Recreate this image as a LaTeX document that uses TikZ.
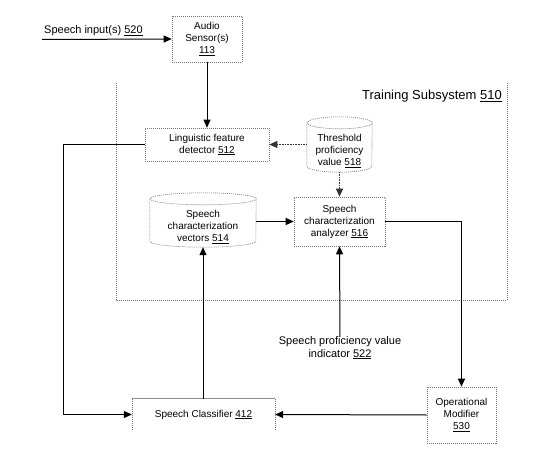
\documentclass[tikz,border=0pt]{standalone}
\usepackage{fontspec}
\setmainfont{Liberation Sans}
\usetikzlibrary{arrows.meta}
\tikzset{
  boxline/.style={draw=black!55, line width=0.6pt, dash pattern=on 1pt off 1pt},
  plainbox/.style={boxline, rectangle, align=center, inner sep=0pt, font=\fontsize{10}{12}\selectfont},
  ghost/.style={rectangle, align=center, inner sep=0pt, font=\fontsize{10}{12}\selectfont},
  conn/.style={draw=black, line width=1pt, -{Triangle[length=8pt,width=7pt]}},
  dconn/.style={draw=black!80, line width=0.9pt, dash pattern=on 1pt off 0.6pt, -{Triangle[length=8pt,width=7pt]}},
  lbl/.style={font=\fontsize{11}{12.5}\selectfont, align=center, inner sep=0pt},
}
\begin{document}
\begin{tikzpicture}[x=1pt,y=-1pt]
\useasboundingbox[fill=white] (0,0) rectangle (547,466);
% training subsystem (no top edge)
\draw[boxline] (116,83) -- (116,300) -- (507,300) -- (507,83);
\node[lbl, font=\fontsize{13}{15}\selectfont, anchor=east] (title) at (502,96) {Training Subsystem \underline{510}};

% nodes
\node[plainbox, minimum width=70pt, minimum height=46pt] (audio) at (207,39) {Audio\\Sensor(s)\\\underline{113}};
\node[plainbox, minimum width=124pt, minimum height=33pt] (ling) at (207,144.5) {Linguistic feature\\detector \underline{512}};
\node[ghost, minimum width=65pt, minimum height=55pt] (thr) at (339.5,144.5) {};
\node[ghost] (thrtxt) at (339.5,151) {Threshold\\proficiency\\value \underline{518}};
\node[ghost, minimum width=106pt, minimum height=54pt] (vec) at (203,220) {};
\node[ghost] (vectxt) at (203,227) {Speech\\characterization\\vectors \underline{514}};
\node[plainbox, minimum width=91pt, minimum height=49pt] (ana) at (339.5,221.5) {Speech\\characterization\\analyzer \underline{516}};
\node[ghost, minimum width=143pt, minimum height=31pt] (cls) at (203.5,414.5) {Speech Classifier \underline{412}};
\node[plainbox, minimum width=69pt, minimum height=56pt] (op) at (461.5,415) {Operational\\Modifier\\\underline{530}};

% cylinders
\draw[boxline] ([yshift=-6pt]thr.north west) -- ([yshift=6pt]thr.south west)
  arc[start angle=180,end angle=360,x radius=32.5pt,y radius=6pt]
  -- ([yshift=-6pt]thr.north east)
  arc[start angle=0,end angle=180,x radius=32.5pt,y radius=6pt]
  arc[start angle=180,end angle=360,x radius=32.5pt,y radius=6pt];
\draw[boxline] ([yshift=-6pt]vec.north west) -- ([yshift=6pt]vec.south west)
  arc[start angle=180,end angle=360,x radius=53pt,y radius=6pt]
  -- ([yshift=-6pt]vec.north east)
  arc[start angle=0,end angle=180,x radius=53pt,y radius=6pt]
  arc[start angle=180,end angle=360,x radius=53pt,y radius=6pt];

% classifier box (open bottom)
\draw[boxline] (cls.south west) -- (cls.north west);
\draw[draw=black!45, line width=0.8pt] (cls.north west) -- (cls.north east);
\draw[boxline] (cls.north east) -- (cls.south east);

% labels
\coordinate (sin) at (42,39.5);
\node[lbl, anchor=west] (inlbl) at (44,31) {Speech input(s) \underline{520}};
\node[lbl] (ind) at (340,348) {Speech proficiency value\\indicator \underline{522}};

% connectors
\draw[conn] (sin) -- (audio.west);
\draw[conn] (audio.south) -- (ling.north);
\draw[dconn] (thr.west) -- (ling.east);
\draw[dconn] (thr.south) -- (ana.north);
\draw[conn] (vec.east |- ana.west) -- (ana.west);
\draw[conn] (ana.east) -| (op.north);
\draw[conn] (cls.north -| vec.south) -- (vec.south);
\draw[conn] (ind.north) -- (ana.south);
\draw[conn] (ling.west) -- (63,144.5) |- (cls.west);
\draw[conn] (op.west) -- (cls.east);
\end{tikzpicture}
\end{document}
